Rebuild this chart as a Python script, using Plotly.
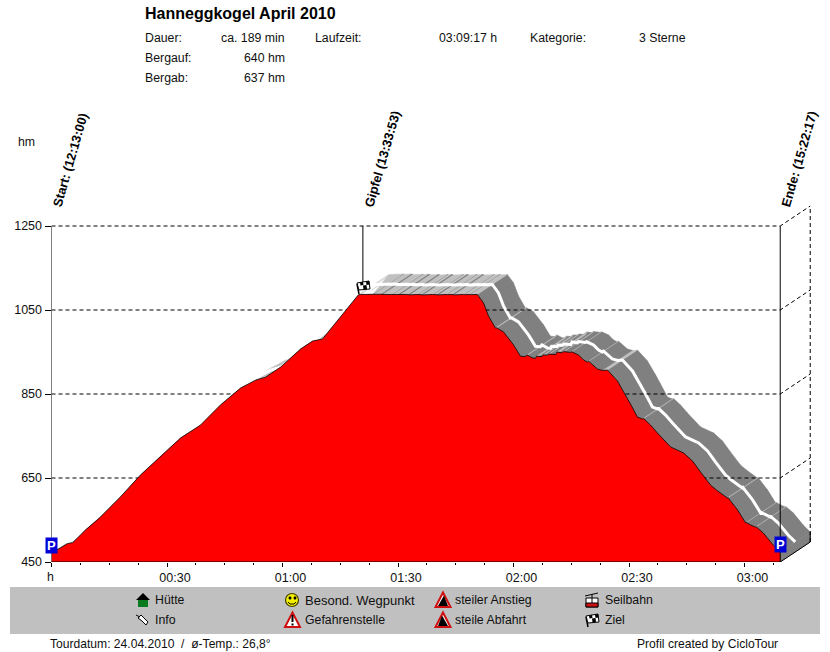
import plotly.graph_objects as go

# ---------- data ----------
minutes = [0, 1.6, 4.2, 5.5, 8.8, 12.7, 17.9, 23.1, 28.3, 33.5, 38.7, 43.9, 49.1, 53.0, 55.6, 59.5,
           64.7, 67.8, 70.4, 75.1, 79.7, 80.3,
           81.5, 83.5, 83.8, 85.5, 85.8, 86.1, 88.5, 88.8, 90, 90.3, 90.6, 92.5, 92.8, 93.1, 95, 95.3,
           96, 96.3, 96.6, 99, 99.3, 100, 100.3, 100.6, 102.5, 102.8, 104, 104.3, 104.6, 107, 107.3, 108.5, 108.8, 110.6,
           112.2, 113.5, 115.3, 115.6, 117.4, 120, 121.8, 123.1, 123.5, 124.9, 125.7, 126.0, 127.4, 127.7, 128.9, 129.2,
           131.0, 131.3, 132.7, 133.0, 134.8, 135.1, 136.9, 138.2, 139.2, 139.5, 141.8, 143.2, 144.4, 147, 149.1, 150.4,
           152.2, 153.5, 153.8, 155.6, 157.4, 160.8, 164.2, 166.5, 168.6, 171.2, 172.7, 175.6, 175.7, 178.2,
           180.3, 180.5, 181.6, 182.9, 183.0, 184.9, 187.5, 189.28]
elevation = [471, 479, 494, 496, 526, 557, 605, 657, 702, 745, 776, 824, 864, 883, 890, 914,
             957, 976, 981, 1033, 1086, 1087,
             1087.5, 1088, 1087.5, 1088, 1087.5, 1087, 1087.5, 1087, 1087.5, 1087, 1086.5, 1087, 1086.5, 1086, 1087, 1086.5,
             1087, 1086.5, 1086, 1087, 1086.5, 1087, 1086.5, 1086, 1087, 1086.5, 1087, 1086.5, 1086, 1087, 1086.5, 1087, 1086.5, 1087,
             1067, 1036, 1007, 1007.5, 998, 967, 940, 939, 943, 936, 935, 940, 939, 943, 942.5, 945,
             944, 950, 948, 951, 949, 950.5, 943, 931, 926, 928, 909.5, 906, 907, 881, 848, 826,
             795, 790.5, 791.5, 776, 757, 724, 709.5, 690.5, 664, 633, 621.5, 602, 603.3, 574,
             543, 544, 538, 533, 534, 519, 490, 474]

y_ticks = [450, 650, 850, 1050, 1250]
x_ticks = [0, 30, 60, 90, 120, 150, 180]
x_labels = ["", "00:30", "01:00", "01:30", "02:00", "02:30", "03:00"]
x_minor = [7.5, 15, 22.5, 37.5, 45, 52.5, 67.5, 75, 82.5, 97.5, 105, 112.5, 127.5, 135, 142.5, 157.5, 165, 172.5, 187.5]

summit_time = 80.88
end_time = 189.28
depth_t = 7.79     # depth of the 3D band in minutes
depth_y = 47.6     # depth of the 3D band in hm

W, H = 830, 652
FONT = "Liberation Sans"
TS = 12.3

def seg_polys(keep):
    xs, ys = [], []
    for i in range(len(minutes) - 1):
        if keep(elevation[i + 1] - elevation[i]):
            a, b = minutes[i], minutes[i + 1]
            p, q = elevation[i], elevation[i + 1]
            xs += [a, b, b + depth_t, a + depth_t, a, None]
            ys += [p, q, q + depth_y, p + depth_y, p, None]
    return xs, ys

fig = go.Figure()

dx, dy = seg_polys(lambda d: d < 0)
lx, ly = seg_polys(lambda d: d >= 0)
fig.add_trace(go.Scatter(x=dx, y=dy, mode="lines", fill="toself", fillcolor="#808080",
                         line=dict(color="#808080", width=0.6), hoverinfo="skip"))
fig.add_trace(go.Scatter(x=lx, y=ly, mode="lines", fill="toself", fillcolor="#c0c0c0",
                         line=dict(color="#c0c0c0", width=0.4), hoverinfo="skip"))
# end cap of the band
fig.add_trace(go.Scatter(x=[end_time, end_time + depth_t, end_time + depth_t, end_time, end_time],
                         y=[450, 450 + depth_y, elevation[-1] + depth_y, elevation[-1], 450],
                         mode="lines", fill="toself", fillcolor="#808080",
                         line=dict(color="#808080", width=0.6), hoverinfo="skip"))
# white centre line
fig.add_trace(go.Scatter(x=[t + depth_t / 2 for t in minutes], y=[e + depth_y / 2 for e in elevation],
                         mode="lines", line=dict(color="white", width=3), hoverinfo="skip"))

# dashed walls
dash = "4px,3px"
for v in y_ticks[1:]:
    fig.add_trace(go.Scatter(x=[0, end_time, end_time + depth_t], y=[v, v, v + depth_y], mode="lines",
                             line=dict(color="black", width=1, dash=dash), hoverinfo="skip"))
fig.add_trace(go.Scatter(x=[end_time + depth_t] * 2, y=[450 + depth_y, 1250 + depth_y], mode="lines",
                         line=dict(color="black", width=1, dash=dash), hoverinfo="skip"))

# profile
fig.add_trace(go.Scatter(x=minutes, y=elevation, mode="lines", fill="tozeroy", fillcolor="#ff0000",
                         line=dict(color="black", width=0.8), hoverinfo="skip"))

# solid frame lines
for xs, ys in [([0, end_time, end_time + depth_t, end_time + depth_t], [450, 450, 450 + depth_y, elevation[-1] + depth_y]),
               ([0, 0], [450, 1250]),
               ([end_time, end_time], [450, 1250]),
               ([summit_time, summit_time], [1110, 1250])]:
    fig.add_trace(go.Scatter(x=xs, y=ys, mode="lines", line=dict(color="black", width=1), hoverinfo="skip"))

# ---------- pixel helpers for decoration ----------
def px(x): return x / W
def py(y): return 1 - y / H

shapes = []
def poly(pts, fill="black", line="black", lw=1):
    path = "M " + " L ".join(f"{px(x):.5f},{py(y):.5f}" for x, y in pts) + " Z"
    shapes.append(dict(type="path", path=path, xref="paper", yref="paper", fillcolor=fill,
                       line=dict(color=line, width=lw)))
def seg(x0, y0, x1, y1, color="black", lw=1):
    shapes.append(dict(type="line", xref="paper", yref="paper", x0=px(x0), y0=py(y0), x1=px(x1), y1=py(y1),
                       line=dict(color=color, width=lw)))
def oval(cx, cy, rx, ry, fill, line="black", lw=1):
    shapes.append(dict(type="circle", xref="paper", yref="paper", x0=px(cx - rx), x1=px(cx + rx),
                       y0=py(cy + ry), y1=py(cy - ry), fillcolor=fill, line=dict(color=line, width=lw)))

def flag(cx, cy):
    seg(cx - 4, cy + 7, cx - 6, cy - 3, lw=1.5)
    poly([(cx - 6, cy - 4), (cx + 6, cy - 6), (cx + 7, cy + 2), (cx - 4, cy + 3)], fill="white", lw=1)
    poly([(cx - 3, cy - 4.5), (cx, cy - 5), (cx + 0.5, cy - 2), (cx - 2.5, cy - 1.5)], fill="black", lw=0)
    poly([(cx + 3, cy - 5.5), (cx + 6, cy - 6), (cx + 6.5, cy - 2.5), (cx + 3.5, cy - 2)], fill="black", lw=0)
    poly([(cx, cy - 1.5), (cx + 3.5, cy - 2), (cx + 4, cy + 2), (cx + 0.5, cy + 2.5)], fill="black", lw=0)

def warn_triangle(cx, cy):
    poly([(cx, cy - 7.5), (cx + 7.5, cy + 7), (cx - 7.5, cy + 7)], fill="white", line="#d01010", lw=2)

# legend panel
poly([(10, 587), (820, 587), (820, 634), (10, 634)], fill="#c0c0c0", line="#c0c0c0", lw=0)

# Huette
poly([(143, 593), (150, 600), (136, 600)], fill="black", lw=0)
poly([(138, 600), (148, 600), (148, 607), (138, 607)], fill="#0a7a1e", lw=0)
# Info pin
poly([(141, 615), (144, 618), (148, 622), (146, 625), (142, 621), (138, 618)], fill="white", line="black", lw=1)
seg(136, 615, 140, 617, lw=1)
# Smiley
oval(292, 600, 6.5, 6.5, "#f5f000", "#404000", 1.2)
oval(290, 598, 1, 1.2, "black")
oval(295, 598, 1, 1.2, "black")
seg(288, 602, 290, 604, lw=1)
seg(290, 604, 294, 604, lw=1)
seg(294, 604, 296, 602, lw=1)
# Gefahrenstelle
warn_triangle(292.5, 620)
seg(292.5, 615, 292.5, 622, lw=2)
seg(292.5, 623.5, 292.5, 625.5, lw=2)
# steiler Anstieg / steile Abfahrt
warn_triangle(443, 600)
poly([(438, 606), (444, 595.5), (448, 606)], fill="black", lw=0)
warn_triangle(443, 620)
poly([(438, 626), (442, 615.5), (448, 626)], fill="black", lw=0)
# Seilbahn
seg(585, 596, 598, 593, lw=1)
seg(592, 594, 592, 598, lw=1)
poly([(586, 598), (598, 598), (598, 607), (586, 607)], fill="white", line="black", lw=1)
poly([(586, 603), (598, 603), (598, 607), (586, 607)], fill="#d01010", line="black", lw=1)
seg(592, 598, 592, 603, lw=1)
# Ziel
flag(592, 620)
# summit flag
flag(363, 287)

# ---------- text ----------
ann = []
def text(x, y, s, size=TS, anchor="left", bold=False, color="#101010"):
    x = x - 2 if anchor == "left" else x + 2
    ann.append(dict(xref="paper", yref="paper", x=px(x), y=py(y + 0.3), text=f"<b>{s}</b>" if bold else s,
                    showarrow=False, xanchor=anchor, yanchor="middle",
                    font=dict(family=FONT, size=size, color=color)))

text(145, 13, "Hanneggkogel April 2010", size=16, bold=True, color="black")
text(145, 37.5, "Dauer:"); text(285, 37.5, "ca. 189 min", anchor="right")
text(315, 37.5, "Laufzeit:"); text(497, 37.5, "03:09:17 h", anchor="right")
text(530, 37.5, "Kategorie:"); text(639, 37.5, "3 Sterne")
text(145, 57.5, "Bergauf:"); text(285, 57.5, "640 hm", anchor="right")
text(145, 77.5, "Bergab:"); text(285, 77.5, "637 hm", anchor="right")
text(18, 142, "hm")
text(47, 577, "h")
text(155, 600, "Hütte"); text(155, 620, "Info")
text(305, 600, "Besond. Wegpunkt", size=13); text(305, 620, "Gefahrenstelle")
text(455, 600, "steiler Anstieg"); text(455, 620, "steile Abfahrt")
text(605, 600, "Seilbahn"); text(605, 620, "Ziel")
text(50, 644, "Tourdatum: 24.04.2010  /  ø-Temp.: 26,8°", size=12.1)
text(637, 644, "Profil created by CicloTour", size=12.1)

for t, s, shift in [(0, "Start: (12:13:00)", -4), (summit_time, "Gipfel (13:33:53)", -4), (end_time, "Ende: (15:22:17)", -4)]:
    ann.append(dict(x=t, y=1250, xref="x", yref="y", text=f"<b>{s}</b>", textangle=-74, showarrow=False,
                    xanchor="left", yanchor="bottom", xshift=shift, yshift=15,
                    font=dict(family=FONT, size=12.8, color="black")))

for t, v in [(0, 490), (end_time, 492)]:
    ann.append(dict(x=t, y=v, xref="x", yref="y", text="<b>P</b>", showarrow=False, width=11, height=15,
                    bgcolor="#0000d8", borderpad=0, font=dict(family=FONT, size=13, color="white")))

fig.update_layout(
    width=W, height=659, margin=dict(l=0, r=0, t=0, b=0), paper_bgcolor="white", plot_bgcolor="white",
    showlegend=False, shapes=shapes, annotations=ann, font=dict(family=FONT, size=12.5, color="#101010"),
    xaxis=dict(domain=[px(51.5), px(811.5)], range=[0, 760 / 3.85], tickmode="array", tickvals=x_ticks, ticktext=x_labels,
               ticks="outside", ticklen=4, tickcolor="black", ticklabelshift=8, showgrid=False, zeroline=False,
               showline=False, fixedrange=True,
               minor=dict(tickmode="array", tickvals=x_minor, ticks="outside", ticklen=2, tickcolor="black", showgrid=False)),
    yaxis=dict(domain=[py(562), py(205)], range=[450, 450 + 357 / 0.42], tickmode="array", tickvals=y_ticks,
               ticks="outside", ticklen=6, tickcolor="black", showgrid=False, zeroline=False, showline=False,
               fixedrange=True),
)
fig.write_html("out.html", config={"displayModeBar": False},
               post_script="""
var s=document.documentElement.style, b=document.body.style;
s.margin='0'; s.padding='0'; s.overflow='hidden'; s.height='659px';
b.margin='0'; b.padding='0'; b.overflow='hidden'; b.height='659px';
""")
